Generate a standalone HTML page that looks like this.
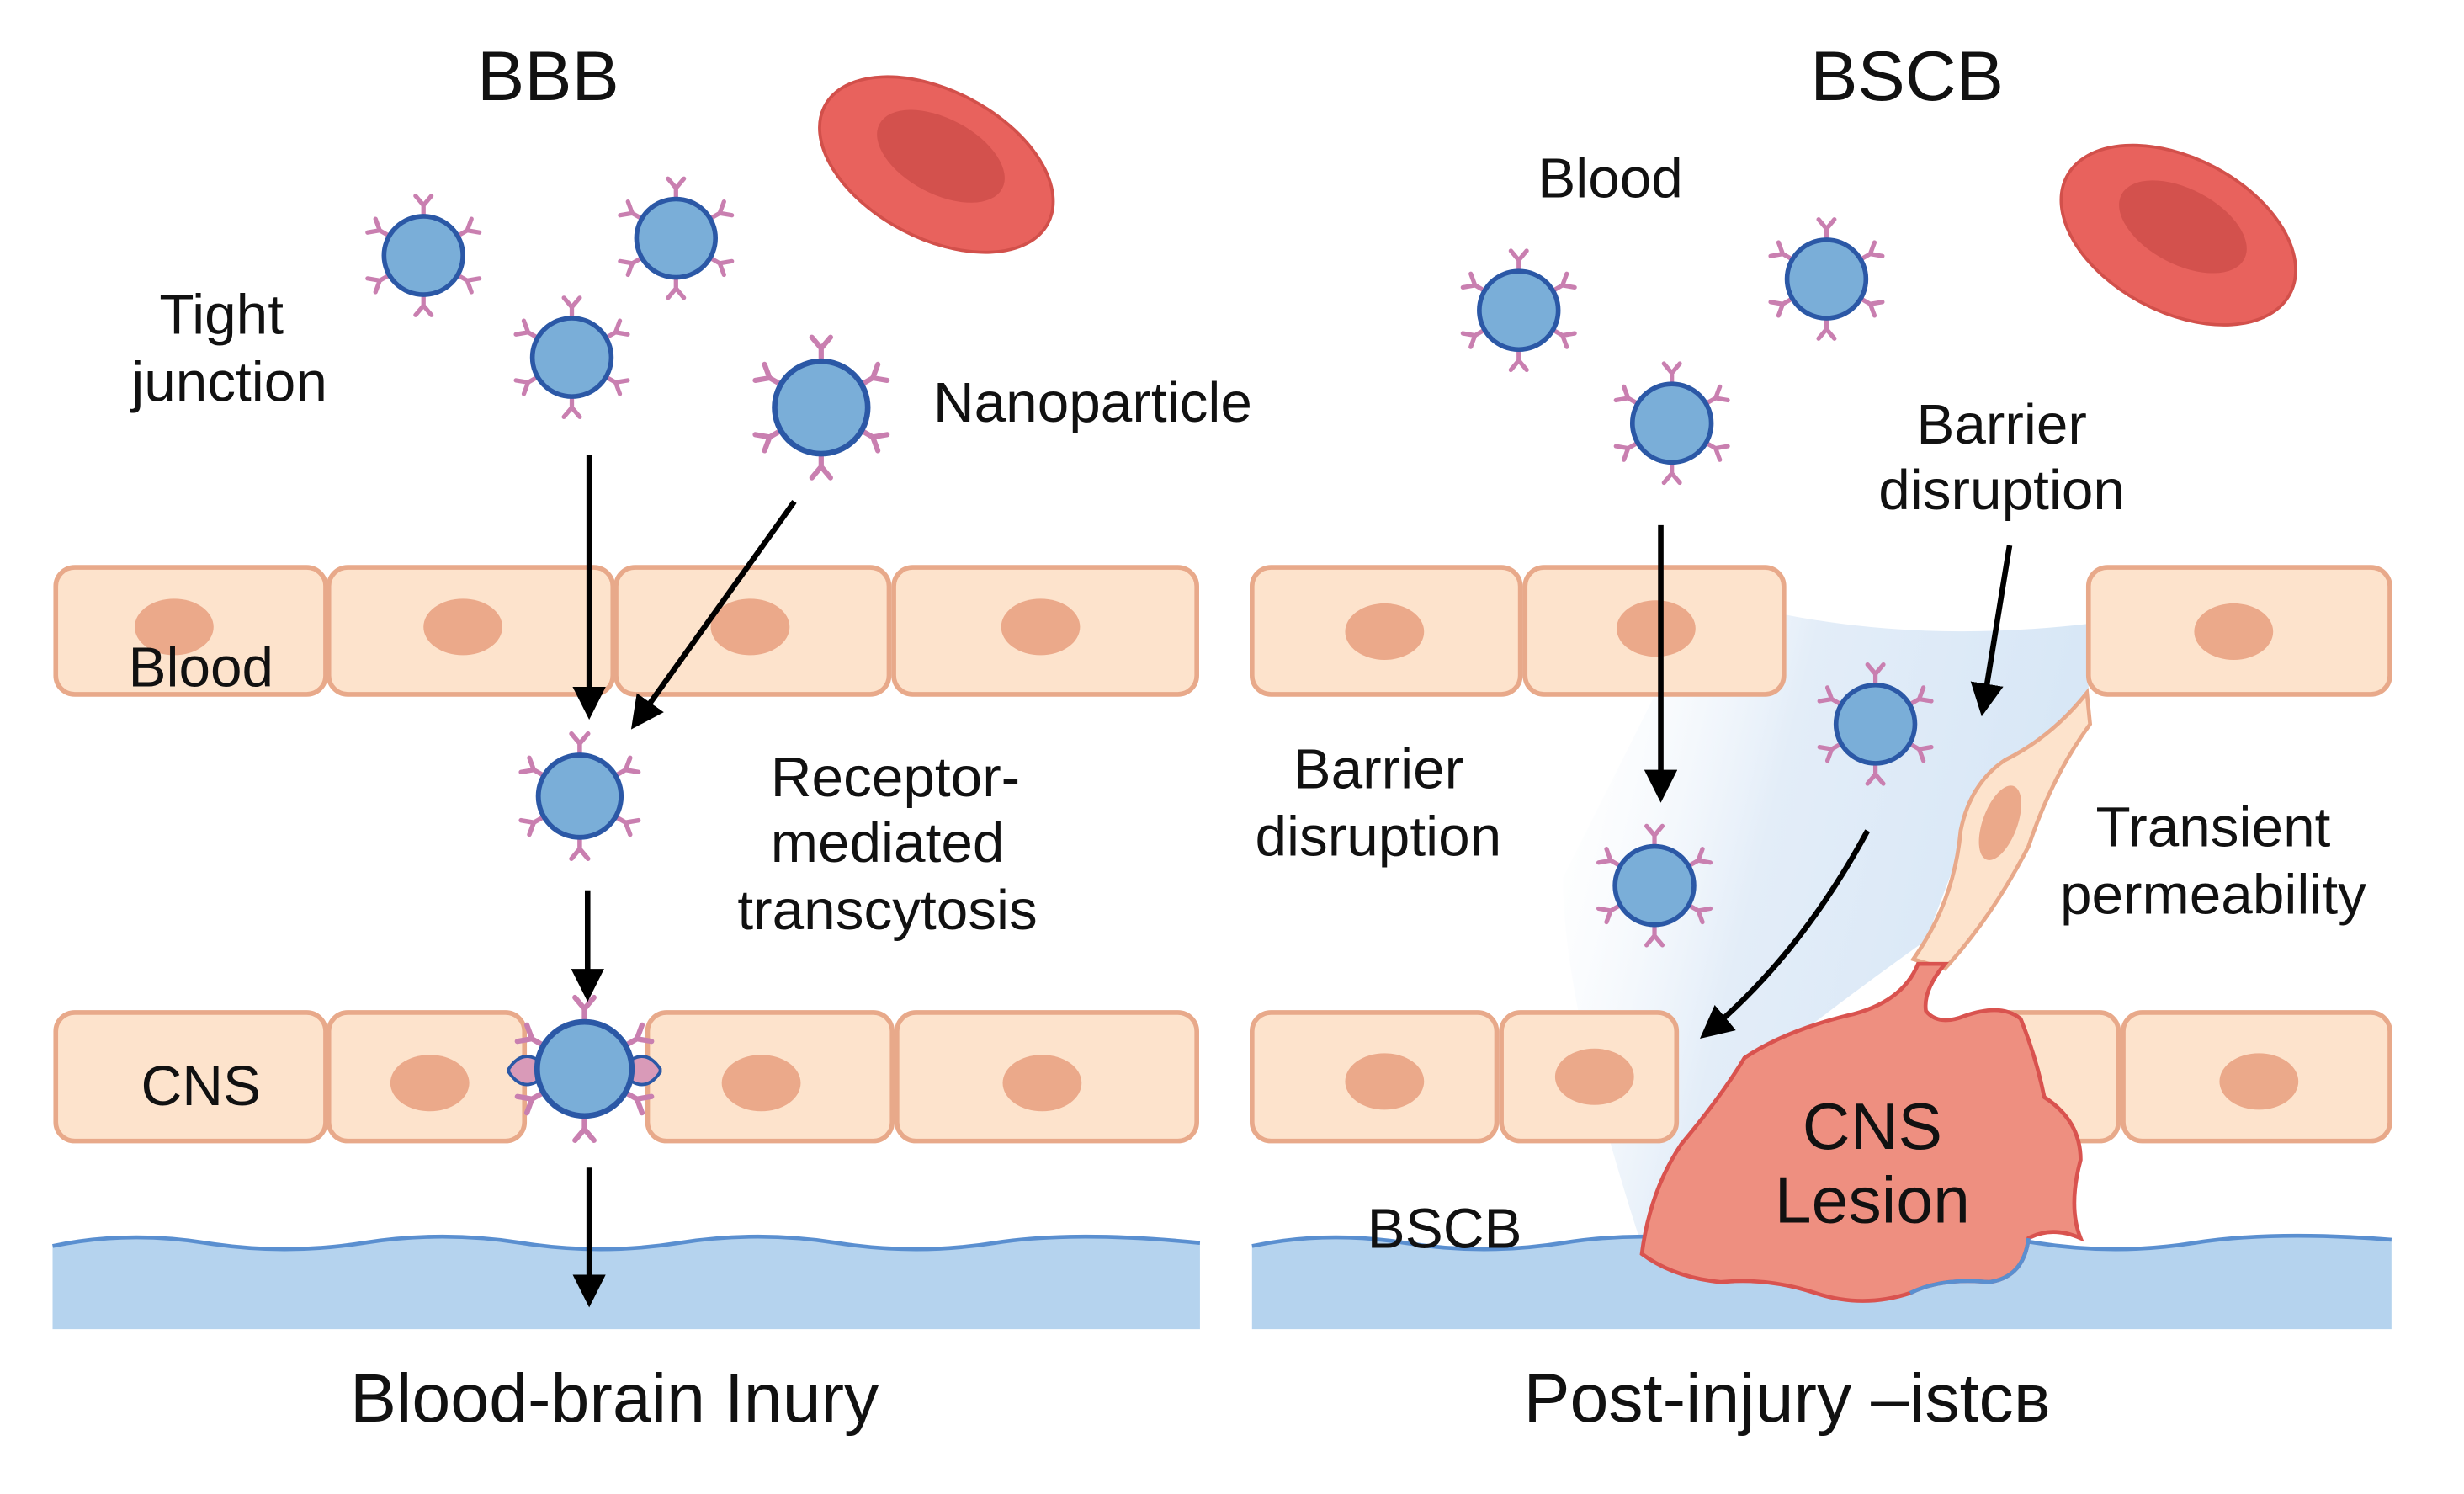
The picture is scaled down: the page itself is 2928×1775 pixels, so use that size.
<!DOCTYPE html>
<html><head><meta charset="utf-8"><style>
html,body{margin:0;padding:0;background:#fff;}
svg{display:block;}
text{font-family:"Liberation Sans",sans-serif;fill:#111;}
</style></head><body>
<svg width="2928" height="1775" viewBox="0 0 1545 937" xmlns="http://www.w3.org/2000/svg">
<defs>
<g id="np">
 <g stroke="#c97fb0" stroke-width="2.8" fill="none" stroke-linecap="round">
  <g id="sp"><path d="M0,-26 L0,-32 M0,-32 L-5,-38 M0,-32 L5,-38"/></g>
  <use href="#sp" transform="rotate(60)"/><use href="#sp" transform="rotate(120)"/>
  <use href="#sp" transform="rotate(180)"/><use href="#sp" transform="rotate(240)"/><use href="#sp" transform="rotate(300)"/>
 </g>
 <circle r="25" fill="#7aaed8" stroke="#2b58a6" stroke-width="3"/>
</g>
<linearGradient id="bl" x1="0" y1="0" x2="1" y2="0.3">
 <stop offset="0" stop-color="#ffffff" stop-opacity="0"/><stop offset="0.45" stop-color="#e3edf8"/><stop offset="1" stop-color="#d6e6f6"/>
</linearGradient>
<marker id="ah" viewBox="0 0 10 10" refX="8" refY="5" markerWidth="6" markerHeight="6" orient="auto"><path d="M0,0 L10,5 L0,10 z" fill="#000"/></marker>
</defs>
<g transform="scale(0.99,0.983)">
<text x="347" y="64" font-size="45" text-anchor="middle">BBB</text>
<text x="1208" y="64" font-size="45" text-anchor="middle">BSCB</text>

<g transform="translate(593,105) rotate(28)"><ellipse rx="80" ry="47" fill="#e8625d" stroke="#d2504b" stroke-width="2"/><ellipse cx="0" cy="-6" rx="44" ry="24" fill="#d3514d"/></g>
<g transform="translate(1380,150) rotate(28)"><ellipse rx="80" ry="49" fill="#e8625d" stroke="#d2504b" stroke-width="2"/><ellipse cx="0" cy="-6" rx="44" ry="24" fill="#d3514d"/></g>

<path d="M1130,392 Q1220,410 1323,398 L1323,445 Q1290,480 1250,520 L1220,600 Q1150,650 1090,700 L1040,795 Q990,640 990,560 L1050,440 Z" fill="url(#bl)"/>

<g fill="#fde3cc" stroke="#e8a98a" stroke-width="3">
<rect x="35" y="362" width="171" height="81" rx="12"/><rect x="208" y="362" width="180" height="81" rx="12"/>
<rect x="390" y="362" width="173" height="81" rx="12"/><rect x="566" y="362" width="192" height="81" rx="12"/>
<rect x="35" y="646" width="171" height="82" rx="12"/><rect x="208" y="646" width="124" height="82" rx="12"/>
<rect x="410" y="646" width="155" height="82" rx="12"/><rect x="568" y="646" width="190" height="82" rx="12"/>
<rect x="793" y="362" width="170" height="81" rx="12"/><rect x="966" y="362" width="164" height="81" rx="12"/>
<rect x="1323" y="362" width="191" height="81" rx="12"/>
<rect x="793" y="646" width="155" height="82" rx="12"/><rect x="951" y="646" width="111" height="82" rx="12"/>
<rect x="1250" y="646" width="92" height="82" rx="12"/><rect x="1345" y="646" width="169" height="82" rx="12"/>
</g>
<g fill="#eba98a">
<ellipse cx="110" cy="400" rx="25" ry="18"/><ellipse cx="293" cy="400" rx="25" ry="18"/><ellipse cx="475" cy="400" rx="25" ry="18"/><ellipse cx="659" cy="400" rx="25" ry="18"/>
<ellipse cx="272" cy="691" rx="25" ry="18"/><ellipse cx="482" cy="691" rx="25" ry="18"/><ellipse cx="660" cy="691" rx="25" ry="18"/>
<ellipse cx="877" cy="403" rx="25" ry="18"/><ellipse cx="1049" cy="401" rx="25" ry="18"/><ellipse cx="1415" cy="403" rx="25" ry="18"/>
<ellipse cx="877" cy="690" rx="25" ry="18"/><ellipse cx="1010" cy="687" rx="25" ry="18"/><ellipse cx="1431" cy="690" rx="25" ry="18"/>
</g>

<path d="M33,795 Q80,785 130,793 T230,793 T330,793 T430,793 T530,793 T630,793 T760,793 L760,848 L33,848 Z" fill="#b5d3ee"/>
<path d="M33,795 Q80,785 130,793 T230,793 T330,793 T430,793 T530,793 T630,793 T760,793" fill="none" stroke="#5a8fd0" stroke-width="2.5"/>
<path d="M793,795 Q840,785 890,793 T990,793 T1090,793 T1190,793 T1290,793 T1390,793 T1515,791 L1515,848 L793,848 Z" fill="#b5d3ee"/>
<path d="M793,795 Q840,785 890,793 T990,793 T1090,793 T1190,793 T1290,793 T1390,793 T1515,791" fill="none" stroke="#5a8fd0" stroke-width="2.5"/>

<path d="M1322,442 Q1300,470 1270,485 Q1248,500 1242,530 Q1238,575 1212,612 L1232,618 Q1262,585 1285,540 Q1300,495 1324,462 Z" fill="#fde3cc" stroke="#e8a98a" stroke-width="2.5"/>
<ellipse cx="1267" cy="525" rx="11" ry="25" transform="rotate(20 1267 525)" fill="#eba98a"/>
<path d="M1040,800 Q1045,760 1065,730 Q1090,700 1105,675 Q1130,658 1170,648 Q1205,640 1215,615 L1232,615 Q1218,632 1220,645 Q1228,655 1245,648 Q1268,640 1280,650 Q1290,675 1295,700 Q1318,715 1318,740 Q1310,770 1318,790 Q1300,782 1285,790 Q1282,815 1260,818 Q1230,815 1210,825 Q1180,835 1150,825 Q1120,815 1090,818 Q1060,815 1040,800 Z" fill="#ee8f80" stroke="#d9534f" stroke-width="2.5"/>
<path d="M1285,790 Q1282,815 1260,818 Q1230,815 1210,825" fill="none" stroke="#5a8fd0" stroke-width="2.5"/>

<use href="#np" transform="translate(268,163)"/><use href="#np" transform="translate(428,152)"/>
<use href="#np" transform="translate(362,228)"/><use href="#np" transform="translate(520,260) scale(1.18)"/>
<use href="#np" transform="translate(367,508) scale(1.05)"/>
<path d="M322,682 Q330,670 340,676 L340,690 Q330,696 322,684 Z M418,682 Q410,670 400,676 L400,690 Q410,696 418,684 Z" fill="#d99ab8" stroke="#2b58a6" stroke-width="2"/>
<use href="#np" transform="translate(370,682) scale(1.2)"/>
<use href="#np" transform="translate(962,198)"/><use href="#np" transform="translate(1157,178)"/>
<use href="#np" transform="translate(1059,270)"/><use href="#np" transform="translate(1188,462)"/>
<use href="#np" transform="translate(1048,565)"/>

<g stroke="#000" stroke-width="3.5" fill="none" marker-end="url(#ah)">
<line x1="373" y1="290" x2="373" y2="455"/><line x1="503" y1="320" x2="402" y2="462"/>
<line x1="372" y1="568" x2="372" y2="635"/><line x1="373" y1="745" x2="373" y2="830"/>
<line x1="1052" y1="335" x2="1052" y2="508"/><line x1="1273" y1="348" x2="1256" y2="453"/>
<path d="M1183,530 Q1140,610 1080,660"/>
</g>

<g font-size="36" text-anchor="middle">
<text x="140" y="213">Tight</text><text x="145" y="256">junction</text>
<text x="692" y="269">Nanoparticle</text>
<text x="127" y="438">Blood</text>
<text x="567" y="508">Receptor-</text><text x="562" y="550">mediated</text><text x="562" y="593">transcytosis</text>
<text x="127" y="705">CNS</text>
<text x="1020" y="126">Blood</text>
<text x="1268" y="283">Barrier</text><text x="1268" y="325">disruption</text>
<text x="873" y="503">Barrier</text><text x="873" y="546">disruption</text>
<text x="1402" y="540">Transient</text><text x="1402" y="583">permeability</text>
<text x="915" y="796">BSCB</text>
</g>
<g font-size="42" text-anchor="middle">
<text x="1186" y="733">CNS</text><text x="1186" y="780">Lesion</text>
</g>
<g font-size="44" text-anchor="middle">
<text x="389" y="907">Blood-brain Inury</text>
<text x="1132" y="907">Post-injury –istcʙ</text>
</g>
</g>
</svg>
</body></html>
